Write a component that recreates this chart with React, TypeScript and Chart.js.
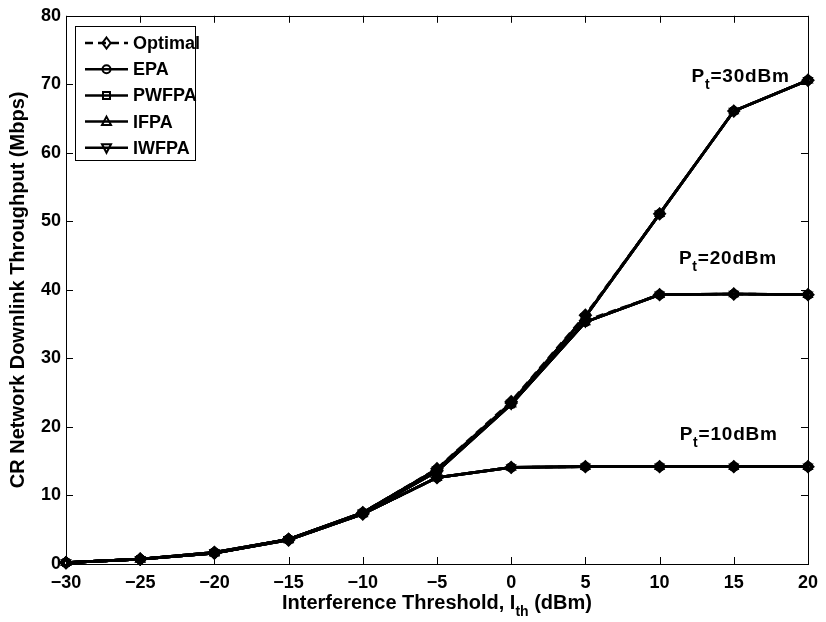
import React, { useEffect, useRef } from 'react';
import { Chart, registerables } from 'chart.js';

Chart.register(...registerables);

// ---- data ----
const thresholds = [-30, -25, -20, -15, -10, -5, 0, 5, 10, 15, 20];
const schemes = ['Optimal', 'EPA', 'PWFPA', 'IFPA', 'IWFPA'];

const pt10Optimal = [0.2, 0.7, 1.6, 3.5, 7.3, 12.6, 14.1, 14.2, 14.2, 14.2, 14.2];
const pt10Heuristic = [0.2, 0.7, 1.6, 3.5, 7.3, 12.6, 14.1, 14.2, 14.2, 14.2, 14.2];
const pt20Optimal = [0.2, 0.7, 1.6, 3.6, 7.4, 13.6, 23.5, 35.5, 39.3, 39.4, 39.3];
const pt20Heuristic = [0.2, 0.7, 1.6, 3.6, 7.4, 13.5, 23.3, 35.3, 39.3, 39.4, 39.3];
const pt30Optimal = [0.2, 0.7, 1.7, 3.6, 7.5, 13.9, 23.7, 36.3, 51.1, 66.1, 70.6];
const pt30Heuristic = [0.2, 0.7, 1.7, 3.6, 7.5, 13.8, 23.5, 36.1, 51.1, 66.1, 70.6];

const powerLevels = ['10', '20', '30'];
const xTicks = [-30, -25, -20, -15, -10, -5, 0, 5, 10, 15, 20];
const yTicks = [0, 10, 20, 30, 40, 50, 60, 70, 80];

const FONT = '"Liberation Sans", Arial, Helvetica, sans-serif';
const pointStyles: any[] = ['rectRot', 'circle', 'rect', 'triangle', 'triangle'];
const pointRotations = [0, 0, 0, 0, 180];
const pointRadii = [5.5, 4, 4, 4.5, 4.5];
const dashes = [[8, 5], [], [], [], []];

function drawMarker(ctx: CanvasRenderingContext2D, kind: number, x: number, y: number) {
  ctx.beginPath();
  if (kind === 0) {
    const r = 5.5;
    ctx.moveTo(x, y - r);
    ctx.lineTo(x + r * 0.75, y);
    ctx.lineTo(x, y + r);
    ctx.lineTo(x - r * 0.75, y);
    ctx.closePath();
  } else if (kind === 1) {
    ctx.arc(x, y, 4, 0, Math.PI * 2);
  } else if (kind === 2) {
    ctx.rect(x - 3.5, y - 3.5, 7, 7);
  } else if (kind === 3) {
    ctx.moveTo(x, y - 5);
    ctx.lineTo(x + 4.5, y + 3.5);
    ctx.lineTo(x - 4.5, y + 3.5);
    ctx.closePath();
  } else {
    ctx.moveTo(x, y + 5);
    ctx.lineTo(x + 4.5, y - 3.5);
    ctx.lineTo(x - 4.5, y - 3.5);
    ctx.closePath();
  }
  ctx.stroke();
}

const decorPlugin = {
  id: 'matlabDecor',
  beforeDatasetsDraw(chart: any) {
    const { ctx, chartArea: a, scales } = chart;
    ctx.save();
    ctx.strokeStyle = '#000';
    ctx.lineWidth = 1;
    ctx.strokeRect(Math.round(a.left) + 0.5, Math.round(a.top) + 0.5, Math.round(a.right - a.left), Math.round(a.bottom - a.top));
    const tl = 7;
    ctx.beginPath();
    xTicks.forEach((v) => {
      const px = Math.round(scales.x.getPixelForValue(v)) + 0.5;
      ctx.moveTo(px, a.bottom);
      ctx.lineTo(px, a.bottom - tl);
      ctx.moveTo(px, a.top);
      ctx.lineTo(px, a.top + tl);
    });
    yTicks.forEach((v) => {
      const py = Math.round(scales.y.getPixelForValue(v)) + 0.5;
      ctx.moveTo(a.left, py);
      ctx.lineTo(a.left + tl, py);
      ctx.moveTo(a.right, py);
      ctx.lineTo(a.right - tl, py);
    });
    ctx.stroke();
    ctx.restore();
  },
  afterDraw(chart: any) {
    const { ctx, chartArea: a, scales } = chart;
    ctx.save();
    ctx.fillStyle = '#000';
    ctx.strokeStyle = '#000';

    // annotations P_t=..dBm
    const annX = [11.35, 11.3, 12.15];
    const annY = [18.1, 43.85, 70.4];
    (ctx as any).letterSpacing = '0.8px';
    powerLevels.forEach((p, i) => {
      let x = scales.x.getPixelForValue(annX[i]);
      const y = scales.y.getPixelForValue(annY[i]);
      ctx.textBaseline = 'alphabetic';
      ctx.textAlign = 'left';
      ctx.font = `bold 19px ${FONT}`;
      ctx.fillText('P', x, y);
      x += ctx.measureText('P').width;
      ctx.font = `bold 14px ${FONT}`;
      ctx.fillText('t', x, y + 7);
      x += ctx.measureText('t').width;
      ctx.font = `bold 19px ${FONT}`;
      ctx.fillText('=' + p + 'dBm', x, y);
    });
    (ctx as any).letterSpacing = '0px';

    // x title with subscript
    const cx = (a.left + a.right) / 2;
    const ty = 609;
    const part1 = 'Interference Threshold, I';
    const sub = 'th';
    const part2 = ' (dBm)';
    ctx.font = `bold 20px ${FONT}`;
    const w1 = ctx.measureText(part1).width;
    const w3 = ctx.measureText(part2).width;
    ctx.font = `bold 14px ${FONT}`;
    const w2 = ctx.measureText(sub).width;
    let sx = cx - (w1 + w2 + w3) / 2;
    ctx.textAlign = 'left';
    ctx.textBaseline = 'alphabetic';
    ctx.font = `bold 20px ${FONT}`;
    ctx.fillText(part1, sx, ty);
    sx += w1;
    ctx.font = `bold 14px ${FONT}`;
    ctx.fillText(sub, sx, ty + 7);
    sx += w2;
    ctx.font = `bold 20px ${FONT}`;
    ctx.fillText(part2, sx, ty);

    // y title
    ctx.save();
    ctx.translate(18, (a.top + a.bottom) / 2);
    ctx.rotate(-Math.PI / 2);
    ctx.textAlign = 'center';
    ctx.textBaseline = 'middle';
    ctx.font = `bold 20px ${FONT}`;
    ctx.fillText('CR Network Downlink Throughput (Mbps)', 0, 0);
    ctx.restore();

    // legend
    const lx = 75.5, ly = 26.5, lw = 120, lh = 134;
    ctx.fillStyle = '#fff';
    ctx.fillRect(lx, ly, lw, lh);
    ctx.lineWidth = 1;
    ctx.strokeRect(lx, ly, lw, lh);
    ctx.fillStyle = '#000';
    schemes.forEach((name, i) => {
      const yy = 43 + i * 26.2;
      ctx.lineWidth = 2.5;
      ctx.setLineDash(dashes[i]);
      ctx.beginPath();
      ctx.moveTo(85, yy);
      ctx.lineTo(128, yy);
      ctx.stroke();
      ctx.setLineDash([]);
      ctx.lineWidth = 2;
      drawMarker(ctx, i, 106.5, yy);
      ctx.font = `bold 18px ${FONT}`;
      ctx.textAlign = 'left';
      ctx.textBaseline = 'middle';
      ctx.fillText(name, 133, yy + 1);
    });
    ctx.restore();
  },
};

const groups = [
  [pt10Optimal, pt10Heuristic],
  [pt20Optimal, pt20Heuristic],
  [pt30Optimal, pt30Heuristic],
];

export default function App() {
  const ref = useRef<HTMLCanvasElement | null>(null);
  useEffect(() => {
    document.body.style.margin = '0';
    const datasets: any[] = [];
    groups.forEach(([opt, heur], g) => {
      schemes.forEach((name, s) => {
        const vals = s === 0 ? opt : heur;
        datasets.push({
          label: `${name} Pt=${powerLevels[g]}dBm`,
          data: thresholds.map((x, i) => ({ x, y: vals[i] })),
          borderColor: '#000',
          backgroundColor: 'rgba(0,0,0,0)',
          borderWidth: 2.7,
          borderDash: dashes[s],
          pointStyle: pointStyles[s],
          pointRotation: pointRotations[s],
          pointRadius: pointRadii[s],
          pointBorderWidth: 2,
          pointBorderColor: '#000',
          pointBackgroundColor: 'rgba(0,0,0,0)',
          tension: 0,
          clip: false,
        });
      });
    });
    const chart = new Chart(ref.current!, {
      type: 'line',
      data: { datasets },
      options: {
        animation: false,
        responsive: false,
        events: [],
        layout: { padding: { top: 15, right: 14, left: 0, bottom: 0 } },
        plugins: { legend: { display: false }, tooltip: { enabled: false } },
        scales: {
          x: {
            type: 'linear',
            min: -30,
            max: 20,
            afterFit: (s: any) => { s.height = 58; },
            afterBuildTicks: (s: any) => { s.ticks = xTicks.map((v) => ({ value: v })); },
            grid: { display: false, drawTicks: false },
            border: { display: false },
            ticks: {
              padding: 8,
              color: '#000',
              font: { family: FONT, size: 18, weight: 'bold' },
              callback: (v: any) => String(v).replace('-', '\u2212'),
              maxRotation: 0,
            },
          },
          y: {
            type: 'linear',
            min: 0,
            max: 80,
            afterFit: (s: any) => { s.width = 66; },
            afterBuildTicks: (s: any) => { s.ticks = yTicks.map((v) => ({ value: v })); },
            grid: { display: false, drawTicks: false },
            border: { display: false },
            ticks: {
              padding: 5,
              color: '#000',
              font: { family: FONT, size: 18, weight: 'bold' },
            },
          },
        },
      },
      plugins: [decorPlugin],
    } as any);
    return () => chart.destroy();
  }, []);
  return (
    <div style={{ width: 826, height: 622 }}>
      <canvas ref={ref} width={826} height={622} style={{ display: 'block' }} />
    </div>
  );
}
